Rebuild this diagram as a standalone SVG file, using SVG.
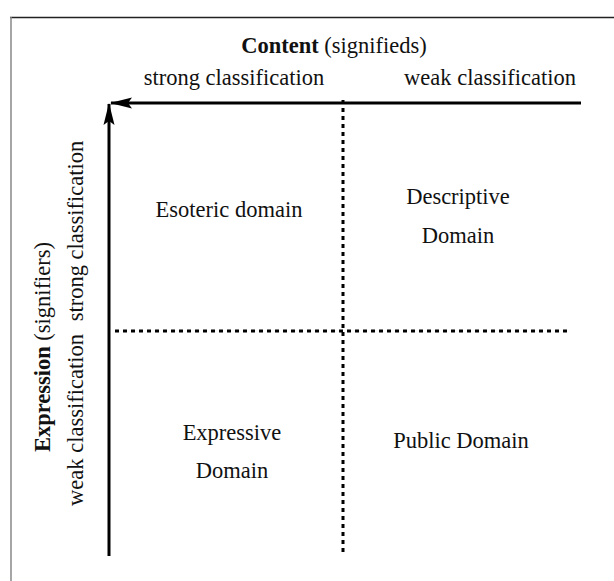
<svg xmlns="http://www.w3.org/2000/svg" width="614" height="581" viewBox="0 0 614 581">
  <style>
    .t { font-family: "Liberation Serif", "Times New Roman", serif; font-size: 22.5px; fill: #111; }
    .b { font-weight: bold; }
    .axis { stroke: #000; stroke-width: 3; fill: none; }
    .dot { stroke: #000; stroke-width: 3; stroke-dasharray: 4 4; fill: none; }
  </style>
  <defs>
    <marker id="head" viewBox="0 0 22 12" refX="21" refY="6" markerWidth="22" markerHeight="12" markerUnits="userSpaceOnUse" orient="auto">
      <path d="M22,6 L0,0.5 L4,6 L0,11.5 Z" fill="#000"/>
    </marker>
  </defs>
  <rect width="614" height="581" fill="#fff"/>
  <!-- frame -->
  <line x1="10" y1="17.5" x2="614" y2="17.5" stroke="#222" stroke-width="1.5"/>
  <line x1="11" y1="17" x2="11" y2="581" stroke="#888" stroke-width="1.5"/>

  <g id="connectors">
    <line class="axis" x1="581" y1="103" x2="111" y2="103" marker-end="url(#head)"/>
    <line class="axis" x1="109" y1="556" x2="109" y2="104" marker-end="url(#head)"/>
    <line class="dot" x1="343" y1="100" x2="343" y2="553"/>
    <line class="dot" x1="115" y1="331" x2="568" y2="331"/>
  </g>

  <g id="content-axis">
    <text class="t" x="334" y="53" text-anchor="middle"><tspan class="b">Content</tspan> (signifieds)</text>
    <text class="t" x="234" y="85" text-anchor="middle">strong classification</text>
    <text class="t" x="490" y="85" text-anchor="middle">weak classification</text>
  </g>

  <g id="expression-axis">
    <text class="t" transform="translate(50,347) rotate(-90)" text-anchor="middle"><tspan class="b">Expression</tspan> (signifiers)</text>
    <text class="t" transform="translate(83,231) rotate(-90)" text-anchor="middle">strong classification</text>
    <text class="t" transform="translate(83,420) rotate(-90)" text-anchor="middle">weak classification</text>
  </g>

  <g id="esoteric">
    <text class="t" x="229" y="217" text-anchor="middle">Esoteric domain</text>
  </g>
  <g id="descriptive">
    <text class="t" x="458" y="204" text-anchor="middle">Descriptive</text>
    <text class="t" x="458" y="243" text-anchor="middle">Domain</text>
  </g>
  <g id="expressive">
    <text class="t" x="232" y="440" text-anchor="middle">Expressive</text>
    <text class="t" x="232" y="478" text-anchor="middle">Domain</text>
  </g>
  <g id="public">
    <text class="t" x="461" y="448" text-anchor="middle">Public Domain</text>
  </g>
</svg>
